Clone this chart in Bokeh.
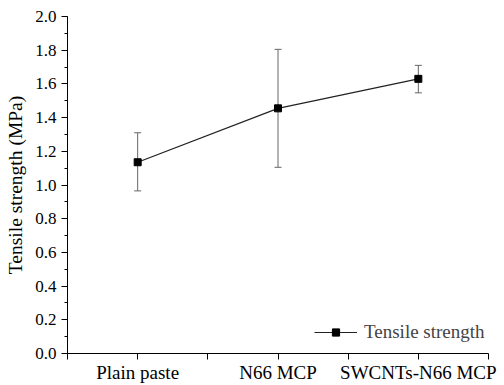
from bokeh.plotting import figure
from bokeh.models import (ColumnDataSource, Whisker, FixedTicker, Range1d, TeeHead,
                          Legend, LegendItem, NumeralTickFormatter)
from bokeh.embed import file_html
from bokeh.resources import INLINE

categories = ["Plain paste", "N66 MCP", "SWCNTs-N66 MCP"]
strength = [1.135, 1.455, 1.630]
err_upper = [1.31, 1.805, 1.71]
err_lower = [0.965, 1.105, 1.547]

xs = [i + 1 for i in range(len(categories))]
src = ColumnDataSource(dict(x=xs, y=strength, upper=err_upper, lower=err_lower))

FONT = "'Liberation Serif', 'Times New Roman', serif"

p = figure(width=504, height=385, output_backend="svg", toolbar_location=None,
           x_range=Range1d(0.5, 3.5), y_range=Range1d(0, 2.0),
           min_border_left=67, min_border_right=16, min_border_top=16, min_border_bottom=30)
p.outline_line_color = None
p.grid.visible = False
p.background_fill_color = "white"
p.border_fill_color = "white"

# x axis
p.xaxis.ticker = FixedTicker(ticks=[0.5, 1, 1.5, 2, 2.5, 3, 3.5])
overrides = {0.5: "", 1.5: "", 2.5: "", 3.5: ""}
for xi, c in zip(xs, categories):
    overrides[xi] = c
p.xaxis.major_label_overrides = overrides
p.xaxis.major_tick_out = 6
p.xaxis.major_tick_in = 0
p.xaxis.minor_tick_line_color = None
p.xaxis.major_label_text_font = FONT
p.xaxis.major_label_text_font_size = "19px"
p.xaxis.major_label_text_color = "black"
p.xaxis.major_label_standoff = 2
p.xaxis.axis_line_color = "black"
p.xaxis.major_tick_line_color = "black"

# y axis
p.yaxis.ticker = FixedTicker(ticks=[round(0.2 * i, 1) for i in range(11)],
                             minor_ticks=[round(0.1 * i, 1) for i in range(21)])
p.yaxis.formatter = NumeralTickFormatter(format="0.0")
p.yaxis.major_tick_out = 6
p.yaxis.major_tick_in = 0
p.yaxis.minor_tick_out = 3
p.yaxis.minor_tick_in = 0
p.yaxis.major_label_text_font = FONT
p.yaxis.major_label_text_font_size = "17px"
p.yaxis.major_label_text_color = "black"
p.yaxis.major_label_standoff = 5
p.yaxis.axis_label = "Tensile strength (MPa)"
p.yaxis.axis_label_text_font = FONT
p.yaxis.axis_label_text_font_size = "19.5px"
p.yaxis.axis_label_text_font_style = "normal"
p.yaxis.axis_label_text_color = "black"
p.yaxis.axis_label_standoff = 6
p.yaxis.axis_line_color = "black"
p.yaxis.major_tick_line_color = "black"
p.yaxis.minor_tick_line_color = "black"

whisker = Whisker(base="x", upper="upper", lower="lower", source=src,
                  line_color="#666666", line_width=1,
                  upper_head=TeeHead(size=7, line_color="#666666", line_width=1),
                  lower_head=TeeHead(size=7, line_color="#666666", line_width=1))
p.add_layout(whisker)

ln = p.line("x", "y", source=src, line_color="#222222", line_width=1.2)
sq = p.scatter("x", "y", source=src, marker="square", size=7, fill_color="black", line_color="black")

legend = Legend(items=[LegendItem(label="Tensile strength", renderers=[ln, sq])],
                location=(247, 10), border_line_color=None, background_fill_alpha=0,
                label_text_font=FONT, label_text_font_size="19px", glyph_width=43,
                glyph_height=18, label_standoff=7, margin=0, padding=0)
p.add_layout(legend)

with open("out.html", "w") as f:
    f.write(file_html(p, INLINE))
